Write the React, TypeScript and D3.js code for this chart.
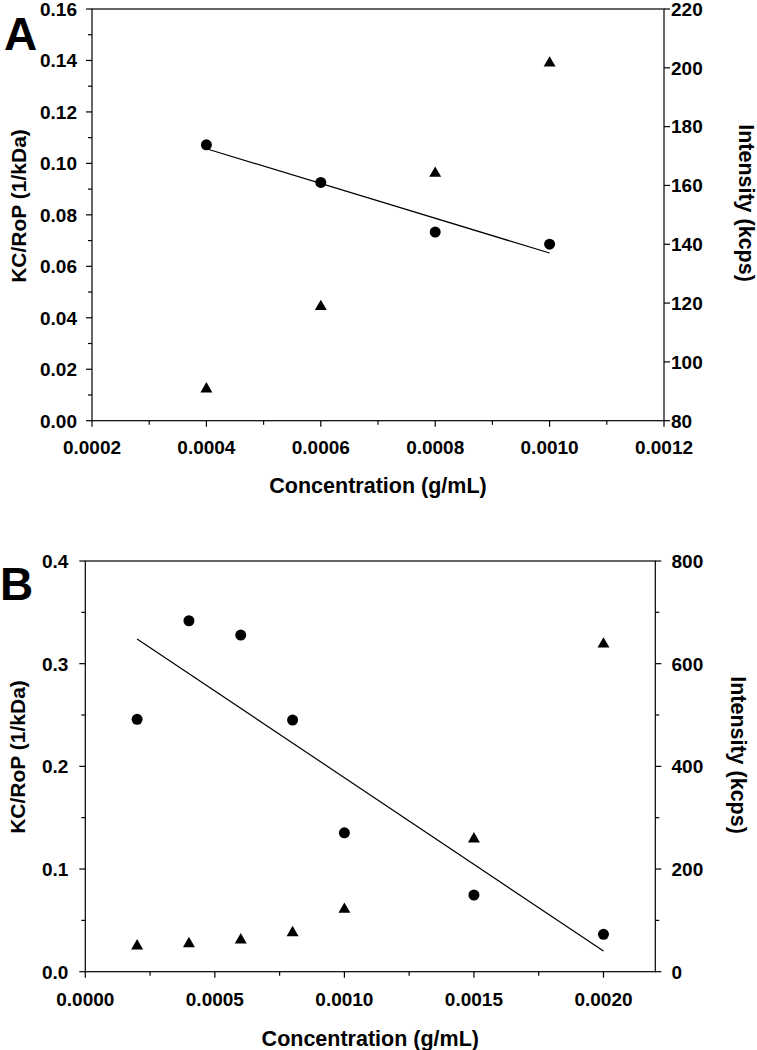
import React from "react";
import * as d3 from "d3";

// ---------- Data ----------
const concA = [0.0004, 0.0006, 0.0008, 0.001];
const kcropA = [0.1072, 0.0926, 0.0733, 0.0686];
const intensityA = [90.8, 118.8, 164.1, 201.6];

const concB = [0.0002, 0.0004, 0.0006, 0.0008, 0.001, 0.0015, 0.002];
const kcropB = [0.2458, 0.3418, 0.3279, 0.2451, 0.1353, 0.0747, 0.0364];
const intensityB = [50, 54.5, 61.7, 76, 121.5, 258.5, 638];

const xTicksA = [0.0002, 0.0004, 0.0006, 0.0008, 0.001, 0.0012];
const xMinorA = [0.0003, 0.0005, 0.0007, 0.0009, 0.0011];
const yTicksA = [0, 0.02, 0.04, 0.06, 0.08, 0.1, 0.12, 0.14, 0.16];
const yMinorA = [0.01, 0.03, 0.05, 0.07, 0.09, 0.11, 0.13, 0.15];
const y2TicksA = [80, 100, 120, 140, 160, 180, 200, 220];
const y2MinorA: number[] = [];

const xTicksB = [0, 0.0005, 0.001, 0.0015, 0.002];
const xMinorB = [0.00025, 0.00075, 0.00125, 0.00175];
const yTicksB = [0, 0.1, 0.2, 0.3, 0.4];
const yMinorB = [0.05, 0.15, 0.25, 0.35];
const y2TicksB = [0, 200, 400, 600, 800];
const y2MinorB = [100, 300, 500, 700];

const FONT = '"Liberation Sans", Arial, Helvetica, sans-serif';

function linfit(xs: number[], ys: number[]) {
  const mx = d3.mean(xs)!;
  const my = d3.mean(ys)!;
  let sxy = 0, sxx = 0;
  xs.forEach((x, i) => {
    sxy += (x - mx) * (ys[i] - my);
    sxx += (x - mx) * (x - mx);
  });
  const slope = sxy / sxx;
  return (x: number) => my + slope * (x - mx);
}

type PanelProps = {
  letter: string;
  letterX: number;
  letterY: number;
  left: number; right: number; top: number; bottom: number;
  xDomain: [number, number];
  yDomain: [number, number];
  y2Domain: [number, number];
  xTicks: number[]; xMinor: number[]; xFmt: string;
  yTicks: number[]; yMinor: number[]; yFmt: string;
  y2Ticks: number[]; y2Minor: number[];
  conc: number[]; kc: number[]; inten: number[];
  yLabelGap: number;
  y2LabelX: number;
  leftTitleY: number; leftTitleX: number;
  rightTitleY: number; rightTitleX: number;
  xLabelBase: number; xTitleBase: number;
};

function Panel(p: PanelProps) {
  const x = d3.scaleLinear().domain(p.xDomain).range([p.left, p.right]);
  const y = d3.scaleLinear().domain(p.yDomain).range([p.bottom, p.top]);
  const y2 = d3.scaleLinear().domain(p.y2Domain).range([p.bottom, p.top]);
  const fx = d3.format(p.xFmt);
  const fy = d3.format(p.yFmt);
  const fit = linfit(p.conc, p.kc);
  const x0 = d3.min(p.conc)!, x1 = d3.max(p.conc)!;
  const lineGen = d3.line<number>().x((d) => x(d)).y((d) => y(fit(d)));
  const tri = d3.symbol().type(d3.symbolTriangle).size(62)()!;
  const major = 6, minor = 4;
  const tickFont = 19;
  return (
    <g fontFamily={FONT} fontWeight="bold" fill="#000">
      <text x={p.letterX} y={p.letterY} fontSize={46} fontWeight="bold">{p.letter}</text>
      {/* frame */}
      <rect x={p.left} y={p.top} width={p.right - p.left} height={p.bottom - p.top}
        fill="none" stroke="#000" strokeWidth={1.2} />
      {/* x ticks */}
      {p.xTicks.map((t) => (
        <g key={"xt" + t}>
          <line x1={x(t)} x2={x(t)} y1={p.bottom} y2={p.bottom + major} stroke="#000" strokeWidth={1.2} />
          <text x={x(t)} y={p.xLabelBase} fontSize={tickFont} textAnchor="middle">{fx(t)}</text>
        </g>
      ))}
      {p.xMinor.map((t) => (
        <line key={"xm" + t} x1={x(t)} x2={x(t)} y1={p.bottom} y2={p.bottom + minor} stroke="#000" strokeWidth={1.2} />
      ))}
      {/* left y */}
      {p.yTicks.map((t) => (
        <g key={"yt" + t}>
          <line x1={p.left - major} x2={p.left} y1={y(t)} y2={y(t)} stroke="#000" strokeWidth={1.2} />
          <text x={p.left - p.yLabelGap} y={y(t)} dy="0.36em" fontSize={tickFont} textAnchor="end">{fy(t)}</text>
        </g>
      ))}
      {p.yMinor.map((t) => (
        <line key={"ym" + t} x1={p.left - minor} x2={p.left} y1={y(t)} y2={y(t)} stroke="#000" strokeWidth={1.2} />
      ))}
      {/* right y */}
      {p.y2Ticks.map((t) => (
        <g key={"y2t" + t}>
          <line x1={p.right} x2={p.right + major} y1={y2(t)} y2={y2(t)} stroke="#000" strokeWidth={1.2} />
          <text x={p.y2LabelX} y={y2(t)} dy="0.36em" fontSize={tickFont} textAnchor="start">{d3.format("d")(t)}</text>
        </g>
      ))}
      {p.y2Minor.map((t) => (
        <line key={"y2m" + t} x1={p.right} x2={p.right + minor} y1={y2(t)} y2={y2(t)} stroke="#000" strokeWidth={1.2} />
      ))}
      {/* titles */}
      <text x={(p.left + p.right) / 2} y={p.xTitleBase} fontSize={21.5} textAnchor="middle">Concentration (g/mL)</text>
      <text transform={`translate(${p.leftTitleX},${p.leftTitleY}) rotate(-90)`} fontSize={21} textAnchor="middle">KC/RoP (1/kDa)</text>
      <text transform={`translate(${p.rightTitleX},${p.rightTitleY}) rotate(90)`} fontSize={21.5} textAnchor="middle">Intensity (kcps)</text>
      {/* regression line */}
      <path d={lineGen([x0, x1])!} fill="none" stroke="#000" strokeWidth={1.2} />
      {/* circles */}
      {p.conc.map((c, i) => (
        <circle key={"c" + i} cx={x(c)} cy={y(p.kc[i])} r={5.5} fill="#000" />
      ))}
      {/* triangles */}
      {p.conc.map((c, i) => (
        <path key={"t" + i} d={tri} transform={`translate(${x(c)},${y2(p.inten[i])})`} fill="#000" />
      ))}
    </g>
  );
}

export default function App() {
  return (
    <div style={{ position: "absolute", left: 0, top: 0 }}>
      <svg width={757} height={1050} style={{ display: "block", background: "#fff" }}>
        <Panel
          letter="A" letterX={4} letterY={50}
          left={92} right={664} top={9} bottom={420.7}
          xDomain={[0.0002, 0.0012]} yDomain={[0, 0.16]} y2Domain={[80, 220]}
          xTicks={xTicksA} xMinor={xMinorA} xFmt=".4f"
          yTicks={yTicksA} yMinor={yMinorA} yFmt=".2f"
          y2Ticks={y2TicksA} y2Minor={y2MinorA}
          conc={concA} kc={kcropA} inten={intensityA}
          yLabelGap={15} y2LabelX={671}
          leftTitleX={26} leftTitleY={206}
          rightTitleX={739} rightTitleY={203}
          xLabelBase={454} xTitleBase={493}
        />
        <Panel
          letter="B" letterX={0} letterY={600}
          left={85.3} right={655.3} top={561} bottom={971.7}
          xDomain={[0, 0.0022]} yDomain={[0, 0.4]} y2Domain={[0, 800]}
          xTicks={xTicksB} xMinor={xMinorB} xFmt=".4f"
          yTicks={yTicksB} yMinor={yMinorB} yFmt=".1f"
          y2Ticks={y2TicksB} y2Minor={y2MinorB}
          conc={concB} kc={kcropB} inten={intensityB}
          yLabelGap={17} y2LabelX={671.5}
          leftTitleX={25} leftTitleY={757}
          rightTitleX={731} rightTitleY={755}
          xLabelBase={1006} xTitleBase={1046}
        />
      </svg>
    </div>
  );
}
